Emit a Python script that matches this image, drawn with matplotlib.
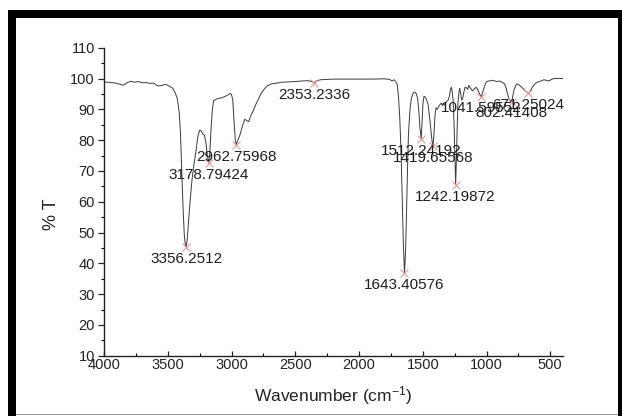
import matplotlib
matplotlib.use("Agg")
import matplotlib.pyplot as plt
from matplotlib.patches import Rectangle
from matplotlib.ticker import MultipleLocator

plt.rcParams["font.family"] = ["Liberation Sans", "DejaVu Sans"]
plt.rcParams["mathtext.fontset"] = "custom"
plt.rcParams["mathtext.rm"] = "Liberation Sans"
plt.rcParams["mathtext.it"] = "Liberation Sans"

# FTIR spectrum (wavenumber, %T)
wavenumber = [
    4000, 3960, 3920, 3880, 3850, 3820, 3790, 3760, 3730, 3700, 3670, 3640,
    3610, 3580, 3550, 3520, 3490, 3460, 3440, 3425, 3410, 3400, 3390, 3380,
    3370, 3362, 3356, 3348, 3338, 3325, 3310, 3295, 3280, 3265, 3250, 3238,
    3225, 3212, 3200, 3190, 3179, 3170, 3160, 3150, 3140, 3120, 3090, 3060,
    3030, 3010, 3000, 2990, 2980, 2970, 2963, 2950, 2935, 2915, 2895, 2880,
    2865, 2850, 2830, 2810, 2790, 2770, 2745, 2720, 2690, 2650, 2600, 2550,
    2500, 2450, 2400, 2370, 2353, 2335, 2300, 2250, 2200, 2100, 2000, 1900,
    1800, 1760, 1740, 1725, 1712, 1700, 1690, 1680, 1670, 1660, 1652, 1643,
    1635, 1628, 1620, 1612, 1600, 1590, 1575, 1562, 1550, 1540, 1530, 1522,
    1512, 1505, 1498, 1490, 1480, 1470, 1458, 1448, 1438, 1428, 1420, 1412,
    1404, 1396, 1385, 1375, 1365, 1355, 1345, 1335, 1325, 1315, 1300, 1290,
    1282, 1276, 1270, 1262, 1255, 1248, 1242, 1236, 1230, 1224, 1216, 1210,
    1202, 1195, 1187, 1178, 1168, 1158, 1148, 1138, 1125, 1110, 1095, 1080,
    1065, 1052, 1041, 1030, 1015, 1000, 980, 950, 920, 900, 880, 865, 850,
    838, 825, 812, 802, 795, 785, 772, 760, 745, 730, 715, 700, 685, 671,
    655, 640, 625, 610, 590, 570, 550, 530, 510, 495, 480, 460, 430, 400,
]
transmittance = [
    98.9, 98.7, 98.6, 98.2, 97.8, 98.6, 99.1, 98.8, 99.0, 98.6, 98.7, 98.4,
    98.5, 97.6, 97.7, 98.1, 97.6, 96.8, 95.2, 93.5, 89.0, 82.0, 70.0, 58.0,
    49.0, 46.0, 45.3, 47.5, 53.0, 60.0, 67.0, 72.0, 76.0, 81.0, 83.2, 83.0,
    82.0, 81.5, 79.0, 75.0, 72.6, 76.0, 84.0, 90.0, 92.8, 93.3, 93.6, 94.0,
    94.6, 95.2, 94.8, 93.0, 86.0, 80.0, 78.5, 80.0, 81.5, 84.5, 86.8, 86.3,
    86.0, 87.8, 89.5, 91.5, 93.2, 95.0, 96.5, 97.6, 98.2, 98.5, 98.8, 98.9,
    99.0, 99.2, 99.3, 99.0, 98.6, 99.2, 99.6, 99.7, 99.8, 99.8, 99.8, 99.8,
    99.9, 99.7, 99.2, 99.6, 99.0, 98.0, 94.0, 87.0, 76.0, 60.0, 46.0, 36.8,
    44.0, 55.0, 70.0, 82.0, 90.0, 93.5, 95.3, 95.6, 95.0, 93.5, 89.0, 84.0,
    80.4, 86.0, 92.0, 94.2, 94.0, 93.0, 91.5, 88.0, 84.0, 80.0, 78.0, 82.0,
    88.0, 90.5, 90.0, 91.0, 91.5, 92.0, 91.2, 91.8, 91.4, 92.5, 93.0, 94.5,
    96.5, 97.2, 96.0, 93.0, 86.0, 75.0, 65.5, 74.0, 84.0, 92.0, 95.5, 96.8,
    95.0, 93.0, 93.5, 95.5, 97.2, 97.0, 96.5, 97.8, 96.8, 96.0, 96.6, 97.2,
    96.0, 94.8, 94.1, 95.5, 97.5, 99.0, 99.2, 99.4, 99.0, 99.2, 98.8, 98.5,
    97.5, 95.5, 93.5, 92.6, 92.5, 94.0, 96.2, 97.6, 98.3, 97.9, 97.4, 96.8,
    96.2, 95.6, 95.2, 96.0, 97.2, 98.0, 98.6, 99.0, 99.2, 99.6, 99.4, 99.2,
    99.6, 99.9, 100.0, 100.0, 100.0,
]

# picked peaks
peak_wn = [3356.2512, 3178.79424, 2962.75968, 2353.2336, 1643.40576,
           1512.24192, 1419.65568, 1242.19872, 1041.59552, 802.41408, 671.25024]
peak_t = [45.3, 72.6, 78.5, 98.6, 36.8, 80.4, 78.0, 65.5, 94.1, 92.5, 95.2]
peak_labels = ["3356.2512", "3178.79424", "2962.75968", "2353.2336",
               "1643.40576", "1512.24192", "1419.65568", "1242.19872",
               "1041.59552", "802.41408", "671.25024"]

fig = plt.figure(figsize=(6.22, 4.16), dpi=100)
ax = fig.add_axes([104 / 622, 1 - 355.7 / 416, 459 / 622, 308 / 416])

ax.plot(wavenumber, transmittance, color="#3a3a3a", lw=0.7)
ax.plot(peak_wn, peak_t, "x", color="#e49a9a", ms=5.5, mew=0.8)
for w, t, lab in zip(peak_wn, peak_t, peak_labels):
    ax.annotate(lab, (w, t), xytext=(0, -8.5), textcoords="offset points",
                ha="center", va="center", fontsize=11, color="#1e1e1e")

ax.set_xlim(4000, 400)
ax.set_ylim(10, 110)
ax.set_xticks([4000, 3500, 3000, 2500, 2000, 1500, 1000, 500])
ax.set_yticks(range(10, 111, 10))
ax.xaxis.set_minor_locator(MultipleLocator(250))
ax.yaxis.set_minor_locator(MultipleLocator(5))

for s in ["top", "right"]:
    ax.spines[s].set_visible(False)
for s in ["left", "bottom"]:
    ax.spines[s].set_linewidth(1.0)
    ax.spines[s].set_color("#222222")

ax.tick_params(axis="y", which="major", direction="out", length=4.5,
               width=0.9, pad=2, labelsize=10.5, colors="#222222")
ax.tick_params(axis="y", which="minor", direction="out", length=2.5, width=0.8)
ax.tick_params(axis="x", which="major", direction="in", length=3.5,
               width=0.9, pad=2, labelsize=10.5, colors="#222222")
ax.tick_params(axis="x", which="minor", direction="in", length=2.5, width=0.8)

ax.set_ylabel("% T", fontsize=13, color="#222222")
ax.yaxis.set_label_coords(-0.115, 0.46)
ax.yaxis.label.set_va("center")
ax.set_xlabel("Wavenumber (cm$^{-1}$)", fontsize=12.5, color="#222222")
ax.xaxis.set_label_coords(0.499, -0.131)
ax.xaxis.label.set_va("center")

# black frame around the picture
W, H = 622, 416
frame = [(8, 0, 8, 406), (8, 398, 614, 8), (618, 0, 4, 406)]
for x0, y0, w, h in frame:
    fig.add_artist(Rectangle((x0 / W, y0 / H), w / W, h / H,
                             transform=fig.transFigure, color="black", lw=0))
fig.add_artist(Rectangle((16 / W, 1.5 / H), 602 / W, 0.8 / H,
                         transform=fig.transFigure, color="#9a9a9a", lw=0))

fig.savefig("out.png", dpi=100)
